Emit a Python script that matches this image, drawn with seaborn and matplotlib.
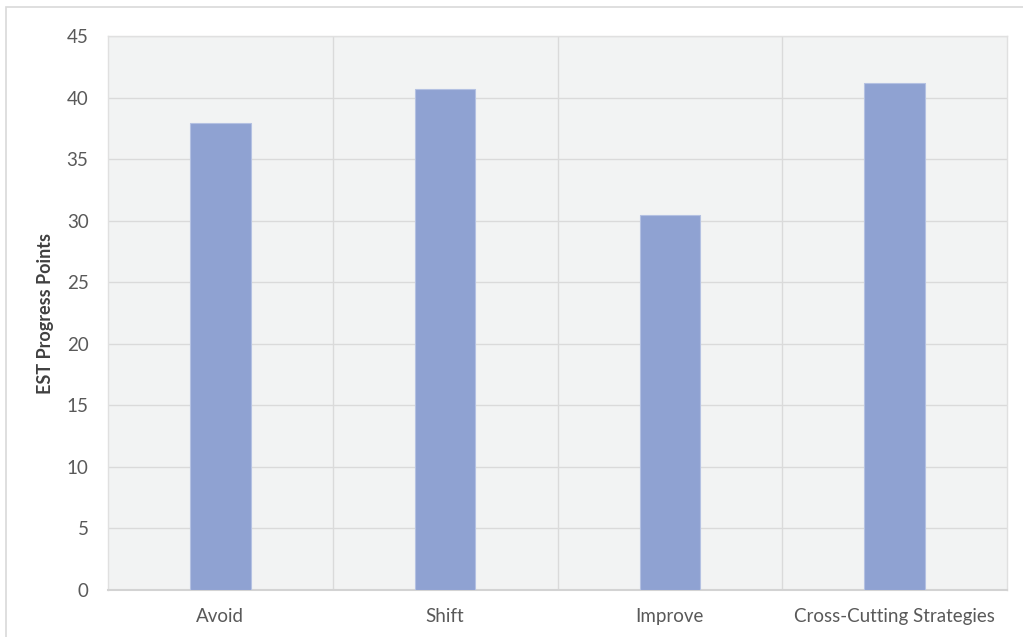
import matplotlib
matplotlib.use("Agg")
import matplotlib.pyplot as plt
from matplotlib.patches import Rectangle
import seaborn as sns
import pandas as pd

# Strategy categories and their EST progress scores
categories = ["Avoid", "Shift", "Improve", "Cross-Cutting Strategies"]
points = [37.9, 40.7, 30.5, 41.2]
y_ticks = [0, 5, 10, 15, 20, 25, 30, 35, 40, 45]

df = pd.DataFrame({"category": categories, "points": points})

sns.set_theme(style="white")
plt.rcParams["font.family"] = ["Lato", "DejaVu Sans"]

fig = plt.figure(figsize=(10.23, 6.37), dpi=100)
ax = fig.add_axes([108 / 1023, 1 - 590 / 637, (1007 - 108) / 1023, (590 - 36) / 637])

# Light frame around the whole chart
fig.patches.append(Rectangle((6 / 1023, -0.05), 1.1, 1 - 7 / 637 + 0.05,
                             transform=fig.transFigure, fill=False,
                             edgecolor="#d9d9d9", linewidth=1.2, zorder=0))

ax.set_facecolor("#f2f3f3")
sns.barplot(data=df, x="category", y="points", ax=ax, color="#8fa2d2",
            saturation=1, width=0.27, edgecolor="#b4c1e2", linewidth=0.8,
            zorder=3)

ax.set_ylim(0, 45)
ax.set_xlim(-0.5, len(categories) - 0.5)
ax.set_yticks(y_ticks)
ax.set_yticklabels([str(t) for t in y_ticks])
ax.set_xticks(range(len(categories)), minor=False)
ax.set_xticks([i + 0.5 for i in range(len(categories) - 1)], minor=True)

ax.grid(axis="y", which="major", color="#dadada", linewidth=1.0, zorder=1)
ax.grid(axis="x", which="minor", color="#dadada", linewidth=1.0, zorder=1)
ax.grid(axis="x", which="major", visible=False)
ax.set_axisbelow(True)

for side in ["top", "right", "left"]:
    ax.spines[side].set_color("#e0e0e0")
    ax.spines[side].set_linewidth(1.0)
ax.spines["bottom"].set_color("#d3d3d3")
ax.spines["bottom"].set_linewidth(1.5)

ax.tick_params(axis="both", which="both", length=0, colors="#595959",
               labelsize=13.5)
ax.tick_params(axis="y", pad=14)
ax.tick_params(axis="x", pad=13)

ax.set_xlabel("")
ax.set_ylabel("EST Progress Points", fontsize=13, fontweight="bold",
              color="#404040", labelpad=9)

fig.savefig("out.png", dpi=100)
